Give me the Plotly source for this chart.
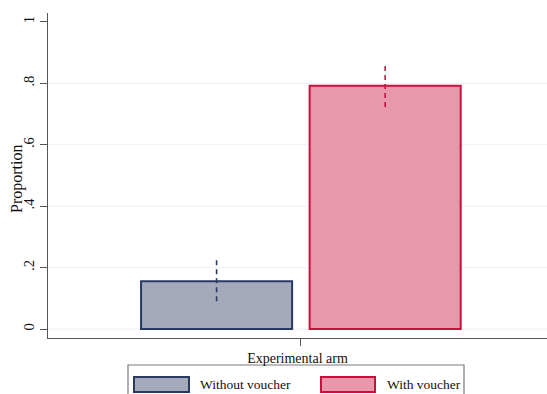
import plotly.graph_objects as go

# Proportion by experimental arm, with 95% confidence intervals
arms = ["Without voucher", "With voucher"]
arm_pos = [1, 2]
proportion = [0.156, 0.792]
ci_low = [0.091, 0.723]
ci_high = [0.228, 0.863]

fills = ["#a5aabb", "#e799ab"]
edges = ["#283a62", "#c8103c"]
y_ticks = [0, 0.2, 0.4, 0.6, 0.8, 1]
y_tick_text = ["0", ".2", ".4", ".6", ".8", "1"]
grid_vals = [0, 0.2, 0.4, 0.6, 0.8]

FONT = "Liberation Serif, Times New Roman, serif"

fig = go.Figure()

for i, arm in enumerate(arms):
    fig.add_trace(go.Bar(
        x=[arm_pos[i]], y=[proportion[i]], width=0.896, name=arm,
        marker=dict(color=fills[i], line=dict(color=edges[i], width=2)),
        showlegend=False,
    ))
    fig.add_trace(go.Scatter(
        x=[arm_pos[i], arm_pos[i]], y=[ci_low[i], ci_high[i]],
        mode="lines", line=dict(color=edges[i], width=1.6, dash="5px,4px"),
        showlegend=False, hoverinfo="skip",
    ))

# light horizontal grid
for g in grid_vals:
    fig.add_shape(type="line", xref="paper", yref="y", x0=0, x1=1, y0=g, y1=g,
                  line=dict(color="#eaf0f2", width=1), layer="below")

# legend box below the axis
L, R = 48, 547
T, B = 13, 338
def px(xp):
    return (xp - L) / (R - L)
def py(yp):
    return (B - yp) / (B - T)

fig.add_shape(type="rect", xref="paper", yref="paper",
              x0=px(128), x1=px(464), y0=py(365), y1=py(402),
              line=dict(color="#7a7a7a", width=1.2), fillcolor="white")
swatch_x = [(134, 189), (321, 375)]
text_x = [198, 385]
for i, arm in enumerate(arms):
    fig.add_shape(type="rect", xref="paper", yref="paper",
                  x0=px(swatch_x[i][0]), x1=px(swatch_x[i][1]),
                  y0=py(392), y1=py(377),
                  line=dict(color=edges[i], width=2), fillcolor=fills[i])
    fig.add_annotation(xref="paper", yref="paper", x=px(text_x[i]), y=py(384.5),
                       text=arm, showarrow=False, xanchor="left", yanchor="middle",
                       font=dict(family=FONT, size=13.5, color="#111"))

# y-axis title
fig.add_annotation(xref="paper", yref="paper", x=px(17), y=py(179),
                   text="Proportion", textangle=-90, showarrow=False,
                   xanchor="center", yanchor="middle",
                   font=dict(family=FONT, size=16, color="#111"))

fig.update_layout(
    width=547, height=394,
    margin=dict(l=L, r=0, t=T, b=394 - B),
    paper_bgcolor="white", plot_bgcolor="white",
    barmode="overlay",
    font=dict(family=FONT, size=13, color="#111"),
    xaxis=dict(range=[0, 2.96], tickvals=[1.5], ticktext=[""],
               ticks="outside", ticklen=7, tickcolor="#555",
               showline=True, linecolor="#555", linewidth=1,
               showgrid=False, zeroline=False,
               title=dict(text="Experimental arm", standoff=5,
                          font=dict(family=FONT, size=14))),
    yaxis=dict(range=[-0.029, 1.029], tickvals=y_ticks, ticktext=y_tick_text,
               tickangle=-90, ticks="outside", ticklen=7, tickcolor="#555",
               showline=True, linecolor="#555", linewidth=1,
               showgrid=False, zeroline=False,
               tickfont=dict(family=FONT, size=14.5)),
)

fig.write_html("out.html")
